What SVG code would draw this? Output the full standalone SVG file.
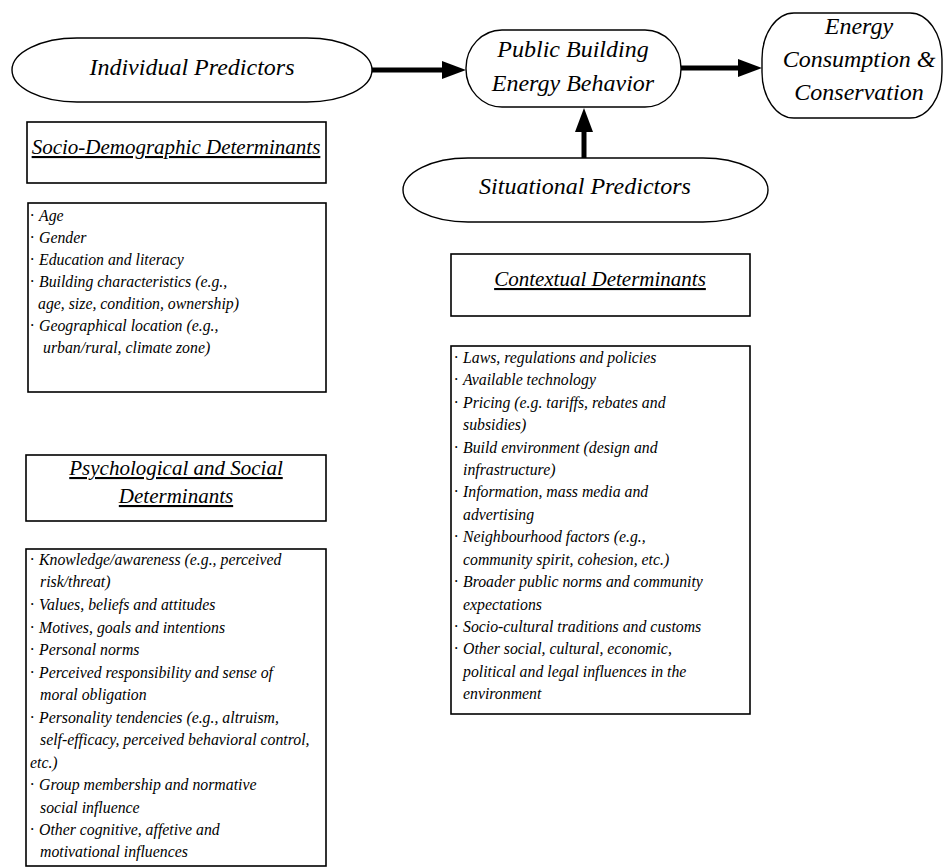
<svg xmlns="http://www.w3.org/2000/svg" width="944" height="867" viewBox="0 0 944 867">
<style>
  .node { fill: #fff; stroke: #000; stroke-width: 1.4; }
  .box { fill: #fff; stroke: #000; stroke-width: 1.6; }
  .lbl { font-family: "Liberation Serif", "Times New Roman", serif; font-style: italic; font-size: 24px; fill: #000; text-anchor: middle; }
  .hdr { font-family: "Liberation Serif", "Times New Roman", serif; font-style: italic; font-size: 21px; fill: #000; text-anchor: middle; text-decoration: underline; }
  .li { font-family: "Liberation Serif", "Times New Roman", serif; font-style: italic; font-size: 15.8px; fill: #000; }
  .conn { stroke: #000; stroke-width: 5; fill: none; }
</style>
<defs>
  <marker id="ah" markerUnits="userSpaceOnUse" markerWidth="26" markerHeight="18" refX="0" refY="9" orient="auto">
    <polygon points="0,0 24,9 0,18" fill="#000"/>
  </marker>
</defs>
<rect width="944" height="867" fill="#fff"/>

<g id="connectors">
  <line class="conn" x1="372" y1="70" x2="442" y2="70" marker-end="url(#ah)"/>
  <line class="conn" x1="681" y1="68" x2="738" y2="68" marker-end="url(#ah)"/>
  <line class="conn" x1="584" y1="158" x2="584" y2="132" marker-end="url(#ah)"/>
</g>

<g id="individual-predictors">
  <path class="node" d="M 77,38 H 307 A 65 32 0 0 1 307,102 H 77 A 65 32 0 0 1 77,38 Z"/>
  <text class="lbl" x="192" y="75">Individual Predictors</text>
</g>

<g id="public-building-energy-behavior">
  <rect class="node" x="466" y="30" width="215" height="77" rx="36" ry="38"/>
  <text class="lbl" x="573" y="57">Public Building</text>
  <text class="lbl" x="573" y="91">Energy Behavior</text>
</g>

<g id="energy-consumption">
  <rect class="node" x="762" y="13" width="180" height="105" rx="32" ry="46"/>
  <text class="lbl" x="859" y="34">Energy</text>
  <text class="lbl" x="859" y="67">Consumption &amp;</text>
  <text class="lbl" x="859" y="100">Conservation</text>
</g>

<g id="situational-predictors">
  <path class="node" d="M 468,158 H 703 A 65 32 0 0 1 703,222 H 468 A 65 32 0 0 1 468,158 Z"/>
  <text class="lbl" x="585" y="194">Situational Predictors</text>
</g>

<g id="socio-demographic-header">
  <rect class="box" x="27" y="122" width="299" height="61"/>
  <text class="hdr" x="176" y="154">Socio-Demographic Determinants</text>
</g>

<g id="socio-demographic-list">
  <rect class="box" x="28" y="203" width="298" height="189"/>
  <text class="li" x="30" y="221">·<tspan x="39">Age</tspan></text>
  <text class="li" x="30" y="243">·<tspan x="39">Gender</tspan></text>
  <text class="li" x="30" y="265">·<tspan x="39">Education and literacy</tspan></text>
  <text class="li" x="30" y="287">·<tspan x="39">Building characteristics (e.g.,</tspan></text>
  <text class="li" x="38" y="309">age, size, condition, ownership)</text>
  <text class="li" x="30" y="331">·<tspan x="39">Geographical location (e.g.,</tspan></text>
  <text class="li" x="43" y="353">urban/rural, climate zone)</text>
</g>

<g id="psychological-social-header">
  <rect class="box" x="26" y="455" width="300" height="66"/>
  <text class="hdr" x="176" y="475">Psychological and Social</text>
  <text class="hdr" x="176" y="503">Determinants</text>
</g>

<g id="psychological-social-list">
  <rect class="box" x="26" y="549" width="300" height="317"/>
  <text class="li" x="30" y="565">·<tspan x="39">Knowledge/awareness (e.g., perceived</tspan></text>
  <text class="li" x="40" y="587">risk/threat)</text>
  <text class="li" x="30" y="610">·<tspan x="39">Values, beliefs and attitudes</tspan></text>
  <text class="li" x="30" y="633">·<tspan x="39">Motives, goals and intentions</tspan></text>
  <text class="li" x="30" y="655">·<tspan x="39">Personal norms</tspan></text>
  <text class="li" x="30" y="678">·<tspan x="39">Perceived responsibility and sense of</tspan></text>
  <text class="li" x="40" y="700">moral obligation</text>
  <text class="li" x="30" y="723">·<tspan x="39">Personality tendencies (e.g., altruism,</tspan></text>
  <text class="li" x="40" y="745">self-efficacy, perceived behavioral control,</text>
  <text class="li" x="30" y="768">etc.)</text>
  <text class="li" x="30" y="790">·<tspan x="39">Group membership and normative</tspan></text>
  <text class="li" x="40" y="813">social influence</text>
  <text class="li" x="30" y="835">·<tspan x="39">Other cognitive, affetive and</tspan></text>
  <text class="li" x="40" y="857">motivational influences</text>
</g>

<g id="contextual-header">
  <rect class="box" x="451" y="254" width="299" height="62"/>
  <text class="hdr" x="600" y="286">Contextual Determinants</text>
</g>

<g id="contextual-list">
  <rect class="box" x="451" y="346" width="299" height="368"/>
  <text class="li" x="454" y="363">·<tspan x="463">Laws, regulations and policies</tspan></text>
  <text class="li" x="454" y="385">·<tspan x="463">Available technology</tspan></text>
  <text class="li" x="454" y="408">·<tspan x="463">Pricing (e.g. tariffs, rebates and</tspan></text>
  <text class="li" x="463" y="430">subsidies)</text>
  <text class="li" x="454" y="453">·<tspan x="463">Build environment (design and</tspan></text>
  <text class="li" x="463" y="475">infrastructure)</text>
  <text class="li" x="454" y="497">·<tspan x="463">Information, mass media and</tspan></text>
  <text class="li" x="463" y="520">advertising</text>
  <text class="li" x="454" y="542">·<tspan x="463">Neighbourhood factors (e.g.,</tspan></text>
  <text class="li" x="463" y="565">community spirit, cohesion, etc.)</text>
  <text class="li" x="454" y="587">·<tspan x="463">Broader public norms and community</tspan></text>
  <text class="li" x="463" y="610">expectations</text>
  <text class="li" x="454" y="632">·<tspan x="463">Socio-cultural traditions and customs</tspan></text>
  <text class="li" x="454" y="654">·<tspan x="463">Other social, cultural, economic,</tspan></text>
  <text class="li" x="463" y="677">political and legal influences in the</text>
  <text class="li" x="463" y="699">environment</text>
</g>
</svg>
